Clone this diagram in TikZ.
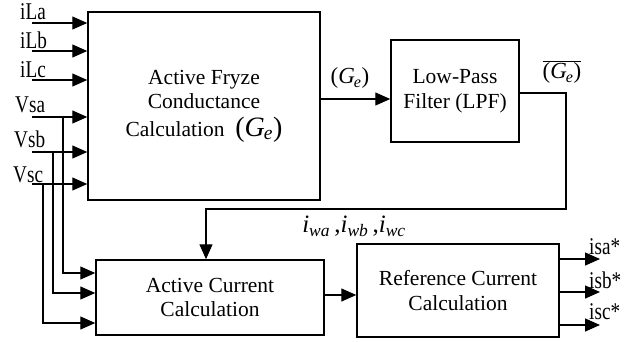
\documentclass[tikz,border=0pt]{standalone}
\usepackage{fontspec}
\setmainfont{Liberation Serif}
\newfontfamily\tagfont[FakeStretch=0.8]{Liberation Serif}
\usetikzlibrary{arrows.meta}
\definecolor{wire}{HTML}{000000}
\newcommand{\Gcond}{(\textit{G}\kern-1pt\textsubscript{\textit{e}})}
\tikzset{
  blockbox/.style={draw=wire,line width=1.5pt,align=center,inner sep=0pt,font=\fontsize{21.5}{24.5}\selectfont},
  sig/.style={draw=wire,line width=1.4pt,-{Triangle[length=15pt,width=13pt]}},
  tag/.style={inner sep=0pt,font=\tagfont\fontsize{24}{24}\selectfont},
  lbl/.style={inner sep=0pt,font=\fontsize{23}{23}\selectfont}
}
\begin{document}
\begin{tikzpicture}[x=1pt,y=-1pt]
\useasboundingbox (0,0) rectangle (637,341);
\node[blockbox,minimum width=232pt,minimum height=188pt] (fryze) at (204,106) {Active Fryze\\Conductance\\[3pt]Calculation\ \ {\fontsize{28}{28}\selectfont\Gcond}};
\node[blockbox,minimum width=128pt,minimum height=102pt] (lpf) at (455,91) {Low-Pass\\Filter (LPF)};
\node[blockbox,minimum width=228pt,minimum height=75pt] (actcur) at (210,297.5) {Active Current\\Calculation};
\node[blockbox,minimum width=202pt,minimum height=93pt] (refcur) at (458,290.5) {Reference Current\\Calculation};

\node[tag,anchor=base west] (tLa) at (20,19) {iLa};
\node[tag,anchor=base west] (tLb) at (20,48) {iLb};
\node[tag,anchor=base west] (tLc) at (20,77) {iLc};
\node[tag,anchor=base west] (tSa) at (15,112) {Vsa};
\node[tag,anchor=base west] (tSb) at (14,147) {Vsb};
\node[tag,anchor=base west] (tSc) at (13,182) {Vsc};
\node[tag,anchor=base west] (tOa) at (589,254) {isa*};
\node[tag,anchor=base west] (tOb) at (589,288) {isb*};
\node[tag,anchor=base west] (tOc) at (589,319) {isc*};

\node[lbl] (gRaw) at (350,78) {\Gcond};
\node[lbl] (gFlt) at (562,72) {$\overline{\hbox{\Gcond}}$};
\node[lbl,font=\fontsize{25}{25}\selectfont] (iw) at (354,226) {\textit{i}\textsubscript{\textit{wa}}\,,\textit{i}\textsubscript{\textit{wb}}\,,\textit{i}\textsubscript{\textit{wc}}};

\coordinate (inLa) at (32,23);
\coordinate (inLb) at (32,51);
\coordinate (inLc) at (32,80);
\coordinate (inSa) at (32,117);
\coordinate (inSb) at (32,152);
\coordinate (inSc) at (32,184);
\coordinate (tapA) at (63,117);
\coordinate (tapB) at (53,152);
\coordinate (tapC) at (43,184);
\coordinate (fb) at (566,209);
\coordinate (outA) at (600,259);
\coordinate (outB) at (600,292);
\coordinate (outC) at (600,325);

\draw[sig] (inLa) -- (inLa -| fryze.west);
\draw[sig] (inLb) -- (inLb -| fryze.west);
\draw[sig] (inLc) -- (inLc -| fryze.west);
\draw[sig] (inSa) -- (inSa -| fryze.west);
\draw[sig] (inSb) -- (inSb -| fryze.west);
\draw[sig] (inSc) -- (inSc -| fryze.west);
\draw[sig] (tapA) |- ([yshift=24.5pt]actcur.west);
\draw[sig] (tapB) |- ([yshift=4.5pt]actcur.west);
\draw[sig] (tapC) |- ([yshift=-25.5pt]actcur.west);

\draw[sig] ([yshift=-8pt]lpf.west -| fryze.east) -- ([yshift=-8pt]lpf.west);
\draw[sig] ([yshift=-2pt]lpf.east) -| (fb) -| ([xshift=-4pt]actcur.north);
\draw[sig] ([yshift=2.5pt]actcur.east) -- ([yshift=2.5pt]actcur.east -| refcur.west);
\draw[sig] (outA -| refcur.east) -- (outA);
\draw[sig] (outB -| refcur.east) -- (outB);
\draw[sig] (outC -| refcur.east) -- (outC);
\end{tikzpicture}
\end{document}
